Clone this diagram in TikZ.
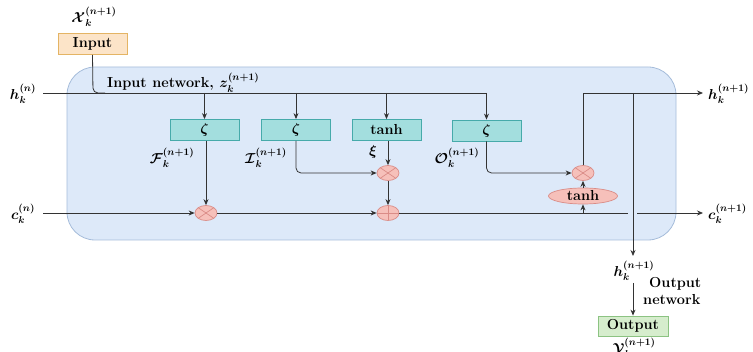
\documentclass[tikz,border=0pt]{standalone}
\usepackage{amsmath,bm}
\usetikzlibrary{shapes.geometric,arrows.meta}
\definecolor{cellfill}{RGB}{221,233,249}
\definecolor{celldraw}{RGB}{165,188,218}
\definecolor{gatefill}{RGB}{163,222,222}
\definecolor{gatedraw}{RGB}{70,170,170}
\definecolor{inpfill}{RGB}{252,228,200}
\definecolor{inpdraw}{RGB}{228,180,100}
\definecolor{outfill}{RGB}{214,237,205}
\definecolor{outdraw}{RGB}{140,195,130}
\definecolor{opfill}{RGB}{246,192,186}
\definecolor{opdraw}{RGB}{218,140,135}
\begin{document}
\begin{tikzpicture}[x=1pt,y=-1pt,
  font=\fontsize{14.5}{17}\selectfont\bfseries,
  line/.style={draw=black!80, line width=0.8pt},
  arr/.style={line, -{Stealth[length=6pt,width=5pt]}},
  gate/.style={draw=gatedraw, fill=gatefill, minimum width=69pt, minimum height=21pt, inner sep=0pt, line width=0.8pt},
  op/.style={ellipse, draw=opdraw, fill=opfill, line width=0.7pt, minimum width=22pt, minimum height=15pt, inner sep=0pt},
  mul/.style={op, path picture={\draw[opdraw,line width=0.7pt] (path picture bounding box.north west) -- (path picture bounding box.south east) (path picture bounding box.north east) -- (path picture bounding box.south west);}},
  add/.style={op, path picture={\draw[opdraw,line width=0.7pt] (path picture bounding box.north) -- (path picture bounding box.south) (path picture bounding box.west) -- (path picture bounding box.east);}},
  lbl/.style={inner sep=0pt}
]
\useasboundingbox (0,0) rectangle (753,352);
% cell background
\node[draw=celldraw, fill=cellfill, rounded corners=28pt, line width=0.8pt, minimum width=609pt, minimum height=173pt, inner sep=0pt] (cell) at (371.5,153.5) {};

% input
\node[draw=inpdraw, fill=inpfill, minimum width=69pt, minimum height=21pt, inner sep=0pt, line width=0.8pt] (inp) at (92.5,44) {Input};
\node[lbl] (xin) at (94,17) {$\bm{\mathcal{X}_k^{(n+1)}}$};

% gates
\node[gate] (g1) at (204.5,130) {$\bm{\zeta}$};
\node[gate] (g2) at (296,130) {$\bm{\zeta}$};
\node[gate] (g3) at (386.5,130) {tanh};
\node[gate] (g4) at (486.5,130.5) {$\bm{\zeta}$};

% ops
\node[mul] (m1) at (206,213) {};
\node[mul] (m2) at (388,173) {};
\node[add] (a1) at (388,213) {};
\node[mul] (m3) at (583,173) {};
\node[op, minimum width=69pt, minimum height=16pt] (th) at (583,196) {tanh};

% labels
\node[lbl] (hn) at (23,94) {$\bm{h_k^{(n)}}$};
\node[lbl] (cn) at (23,214) {$\bm{c_k^{(n)}}$};
\node[lbl, anchor=base west] (inet) at (107,88) {Input network, $\bm{z_k^{(n+1)}}$};
\node[lbl] (fl) at (172,158) {$\bm{\mathcal{F}_k^{(n+1)}}$};
\node[lbl] (il) at (266,158) {$\bm{\mathcal{I}_k^{(n+1)}}$};
\node[lbl] (xil) at (373,152) {$\bm{\xi}$};
\node[lbl] (ol) at (457,158) {$\bm{\mathcal{O}_k^{(n+1)}}$};
\node[lbl, anchor=west] (hout) at (708,94) {$\bm{h_k^{(n+1)}}$};
\node[lbl, anchor=west] (cout) at (708,214) {$\bm{c_k^{(n+1)}}$};
\node[lbl] (hdown) at (634,271) {$\bm{h_k^{(n+1)}}$};
\node[lbl, align=left, anchor=west] (onet) at (643,291) {\hspace*{6pt}Output\\network};
\node[draw=outdraw, fill=outfill, minimum width=70pt, minimum height=20pt, inner sep=0pt, line width=0.8pt] (outp) at (633,326) {Output};
\node[lbl, anchor=north] (yout) at (634,338) {$\bm{\mathcal{Y}_k^{(n+1)}}$};

% coordinates
\coordinate (hs) at (43,93);
\coordinate (j0) at (93,93);
\coordinate (j1) at (204.5,93);
\coordinate (j2) at (296,93);
\coordinate (j3) at (386.5,93);
\coordinate (j4) at (486.5,93);
\coordinate (cs) at (43,213);
\coordinate (ct) at (583,213);
\coordinate (cg1) at (628,213);
\coordinate (cg2) at (637,213);
\coordinate (ce) at (703,213);
\coordinate (ht) at (583,93);
\coordinate (hv) at (633,93);
\coordinate (he) at (703,93);
\coordinate (hd) at (633,256);
\coordinate (hd2) at (633,283);

% h input line
\draw[line] (hs) -- (j4);
\draw[line, rounded corners=5pt] (inp.south) -- (j0) -- ++(12,0);
\draw[arr] (j4) -- (g4.north);
\draw[arr] (j1) -- (g1.north);
\draw[arr] (j2) -- (g2.north);
\draw[arr] (j3) -- (g3.north);

% gate outputs
\draw[arr] (g1.south -| m1) -- (m1.north);
\draw[arr, rounded corners=5pt] (g2.south) |- (m2.west);
\draw[arr] (g3.south -| m2) -- (m2.north);
\draw[arr] (m2.south) -- (a1.north);
\draw[arr, rounded corners=5pt] (g4.south) |- (m3.west);

% cell state
\draw[arr] (cs) -- (m1.west);
\draw[arr] (m1.east) -- (a1.west);
\draw[line] (a1.east) -- (cg1);
\draw[arr] (cg2) -- (ce);
\draw[arr] (ct) -- (th.south);
\draw[arr] (th.north) -- (m3.south);

% hidden output
\draw[arr] (m3.north) -- (ht) -- (he);
\draw[arr] (hv) -- (hd);
\draw[arr] (hd2) -- (outp.north);
\end{tikzpicture}
\end{document}
